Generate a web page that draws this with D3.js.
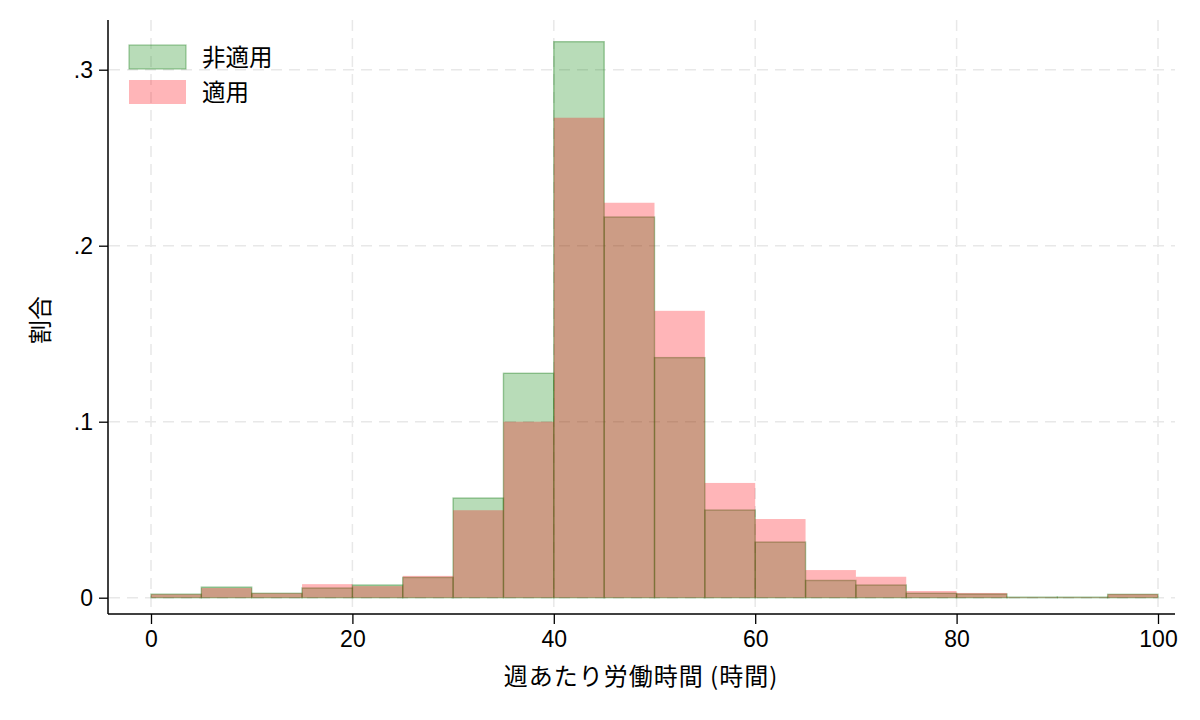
<!DOCTYPE html>
<html>
<head>
<meta charset="utf-8">
<script src="https://cdn.jsdelivr.net/npm/d3@7"></script>
<style>
  body { margin: 0; background: #fff; }
  svg { display: block; }
  text { font-family: "Liberation Sans", Arial, "Noto Sans CJK JP", sans-serif; fill: #000; }
  .jp { font-family: "Noto Sans CJK JP", sans-serif; }
</style>
</head>
<body>
<div id="chart"></div>
<script>
// bin starts (hours per week), width 5
const binStarts = [0, 5, 10, 15, 20, 25, 30, 35, 40, 45, 50, 55, 60, 65, 70, 75, 80, 85, 90, 95];
const binWidth = 5;

// 非適用 (green) and 適用 (pink) shares per bin
const nonApplied = [0.0020, 0.0060, 0.0025, 0.0055, 0.0072, 0.0115, 0.0566, 0.1275, 0.3159, 0.2163,
                    0.1364, 0.0498, 0.0316, 0.0098, 0.0072, 0.0025, 0.0021, 0.0003, 0.0003, 0.0019];
const applied = [0.0019, 0.0055, 0.0025, 0.0077, 0.0066, 0.0124, 0.0497, 0.1000, 0.2727, 0.2244,
                 0.1630, 0.0652, 0.0447, 0.0157, 0.0119, 0.0038, 0.0027, 0.0003, 0.0003, 0.0020];

const xTicks = [0, 20, 40, 60, 80, 100];
const yTicks = [0, 0.1, 0.2, 0.3];
const yTickLabels = ["0", ".1", ".2", ".3"];
const seriesNames = ["非適用", "適用"];

const width = 1200;
const height = 720;
const plot = { left: 108, right: 1175, top: 20, bottom: 614 };

const greenFill = "rgba(0,128,0,0.28)";
const greenLine = "rgba(0,110,0,0.36)";
const pinkFill = "rgba(255,0,10,0.29)";

const svg = d3.select("#chart")
  .append("svg")
  .attr("width", width)
  .attr("height", height);

const x = d3.scaleLinear().domain([0, 100]).range([151, 1158]);
const y = d3.scaleLinear().domain([0, 0.3]).range([597.7, 69.7]);

// grid
const grid = svg.append("g");
grid.selectAll(".vgrid")
  .data(xTicks)
  .join("line")
  .attr("x1", d => x(d)).attr("x2", d => x(d))
  .attr("y1", plot.top).attr("y2", plot.bottom - 2)
  .attr("stroke", "#e8e8e8")
  .attr("stroke-width", 1.5)
  .attr("stroke-dasharray", "11,7");

grid.selectAll(".hgrid")
  .data(yTicks)
  .join("line")
  .attr("x1", plot.left + 1).attr("x2", plot.right)
  .attr("y1", d => y(d)).attr("y2", d => y(d))
  .attr("stroke", "#e8e8e8")
  .attr("stroke-width", 1.5)
  .attr("stroke-dasharray", "11,7");

// bars: green first, pink on top
const bars = svg.append("g");
bars.selectAll(".green")
  .data(binStarts.map((s, i) => ({ s, v: nonApplied[i] })))
  .join("rect")
  .attr("x", d => x(d.s))
  .attr("width", d => x(d.s + binWidth) - x(d.s))
  .attr("y", d => y(d.v))
  .attr("height", d => y(0) - y(d.v))
  .attr("fill", greenFill)
  .attr("stroke", greenLine)
  .attr("stroke-width", 1.4);

bars.selectAll(".pink")
  .data(binStarts.map((s, i) => ({ s, v: applied[i] })))
  .join("rect")
  .attr("x", d => x(d.s))
  .attr("width", d => x(d.s + binWidth) - x(d.s))
  .attr("y", d => y(d.v))
  .attr("height", d => y(0) - y(d.v))
  .attr("fill", pinkFill);

// axes
const xAxis = svg.append("g")
  .attr("transform", `translate(0,${plot.bottom})`)
  .call(d3.axisBottom(x).tickValues(xTicks).tickSize(10).tickPadding(7).tickFormat(d3.format("d")));
xAxis.select(".domain").attr("d", `M${plot.left},0H${plot.right}`).attr("stroke-width", 1.5);
xAxis.selectAll(".tick line").attr("stroke-width", 1.3);
xAxis.selectAll("text").style("font-size", "23px").attr("fill", "#000");

const yAxis = svg.append("g")
  .attr("transform", `translate(${plot.left},0)`)
  .call(d3.axisLeft(y).tickValues(yTicks).tickSize(9).tickPadding(6).tickFormat((d, i) => yTickLabels[i]));
yAxis.select(".domain").attr("d", `M0,${plot.top}V${plot.bottom}`).attr("stroke-width", 1.5);
yAxis.selectAll(".tick line").attr("stroke-width", 1.3);
yAxis.selectAll("text").style("font-size", "23px").attr("fill", "#000");

// axis titles
svg.append("text")
  .attr("class", "jp")
  .attr("x", 641)
  .attr("y", 685)
  .attr("text-anchor", "middle")
  .style("font-size", "24px")
  .style("letter-spacing", "1px")
  .text("週あたり労働時間 (時間)");

svg.append("text")
  .attr("class", "jp")
  .attr("transform", "translate(49,320) rotate(-90)")
  .attr("text-anchor", "middle")
  .style("font-size", "24px")
  .text("割合");

// legend
const legend = svg.append("g");
const keys = [
  { name: seriesNames[0], fill: greenFill, stroke: greenLine },
  { name: seriesNames[1], fill: pinkFill, stroke: "none" }
];
keys.forEach((k, i) => {
  const row = legend.append("g").attr("transform", `translate(129,${45 + i * 35})`);
  row.append("rect")
    .attr("width", 57)
    .attr("height", 24)
    .attr("fill", k.fill)
    .attr("stroke", k.stroke)
    .attr("stroke-width", 1.2);
  row.append("text")
    .attr("class", "jp")
    .attr("x", 73)
    .attr("y", 21)
    .style("font-size", "23.5px")
    .text(k.name);
});
</script>
</body>
</html>
